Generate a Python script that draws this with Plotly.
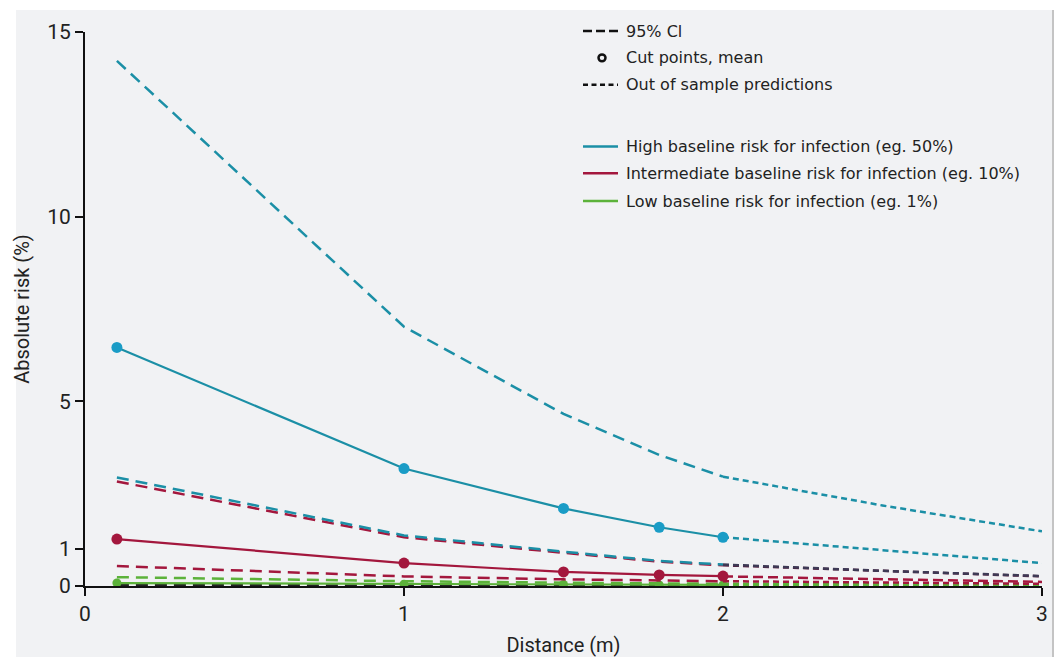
import plotly.graph_objects as go

# ---- data ----
x_cut = [0.1, 1.0, 1.5, 1.8, 2.0]
x_out = [2.0, 2.5, 3.0]

high_mean = [6.46, 3.18, 2.10, 1.59, 1.32]
high_upper = [14.22, 7.02, 4.66, 3.55, 2.96]
high_lower = [2.94, 1.37, 0.93, 0.68, 0.58]
high_mean_out = [1.32, 0.96, 0.62]
high_upper_out = [2.96, 2.18, 1.48]
high_lower_out = [0.58, 0.41, 0.27]

mid_mean = [1.27, 0.62, 0.38, 0.30, 0.27]
mid_upper = [2.83, 1.32, 0.90, 0.66, 0.56]
mid_lower = [0.54, 0.26, 0.18, 0.15, 0.13]
mid_mean_out = [0.26, 0.18, 0.11]
mid_upper_out = [0.56, 0.40, 0.26]
mid_lower_out = [0.13, 0.09, 0.06]

low_mean = [0.08, 0.05, 0.04, 0.03, 0.03]
low_upper = [0.24, 0.13, 0.09, 0.07, 0.06]
low_lower = [0.02, 0.01, 0.01, 0.01, 0.01]
low_mean_out = [0.03, 0.02, 0.02]
low_upper_out = [0.06, 0.05, 0.04]

x_ticks = [0, 1, 2, 3]
y_ticks = [0, 1, 5, 10, 15]

legend_style = ["95% Cl", "Cut points, mean", "Out of sample predictions"]
legend_groups = ["High baseline risk for infection (eg. 50%)",
                 "Intermediate baseline risk for infection (eg. 10%)",
                 "Low baseline risk for infection (eg. 1%)"]

BLUE = "#1b8fa6"
BLUE_M = "#1a9cc6"
RED = "#a3173d"
GREEN = "#5cb23a"
CI_DASH = "12px,7px"
OUT_DASH = "6px,4px"

fig = go.Figure()

def line(x, y, color, dash="solid", width=2.2):
    fig.add_trace(go.Scatter(x=x, y=y, mode="lines", showlegend=False,
                             line=dict(color=color, dash=dash, width=width),
                             hoverinfo="skip"))

def mean(x, y, color, mcolor, msize):
    fig.add_trace(go.Scatter(x=x, y=y, mode="lines+markers", showlegend=False,
                             line=dict(color=color, width=2.2),
                             marker=dict(color=mcolor, size=msize),
                             hoverinfo="skip"))

# low
line(x_cut, low_lower, "#222", CI_DASH, 2.5)
line(x_cut, low_upper, GREEN, CI_DASH, 2.5)
line(x_out, low_upper_out, GREEN, OUT_DASH, 2.5)
line(x_out, low_mean_out, GREEN, OUT_DASH, 2.5)
mean(x_cut, low_mean, GREEN, GREEN, 9)
# intermediate
line(x_cut, mid_lower, RED, CI_DASH, 2.5)
line(x_cut, mid_upper, RED, CI_DASH, 2.5)
line(x_out, mid_lower_out, RED, OUT_DASH, 2.5)
line(x_out, mid_mean_out, RED, "10px,5px", 2.5)
line(x_out, mid_upper_out, "#5a1d3f", OUT_DASH, 2.5)
mean(x_cut, mid_mean, RED, RED, 11)
# high
line(x_cut, high_lower, BLUE, CI_DASH, 2.5)
line(x_cut, high_upper, BLUE, CI_DASH, 2.5)
line(x_out, high_lower_out, "#3e3a55", OUT_DASH, 2.5)
line(x_out, high_upper_out, BLUE, OUT_DASH, 2.5)
line(x_out, high_mean_out, BLUE, OUT_DASH, 2.5)
mean(x_cut, high_mean, BLUE, BLUE_M, 11)

# ---- layout geometry (page pixels; body margin of 8px) ----
PL, PR, PT, PB = 85, 1042, 30, 587
W, H = PR - PL, PB - PT

def px(xp):
    return (xp - PL) / W

def py(yp):
    return (PB - yp) / H

# manual legend
LEG_FONT = dict(family="DejaVu Sans", size=16, color="#222")
rows_style = [29, 56, 83]
rows_group = [145, 172, 200]
annotations = []
shapes = [
    dict(type="rect", xref="paper", yref="paper", x0=px(16), x1=px(1053),
         y0=py(670), y1=py(8), fillcolor="#f1f2f4", line=dict(width=0), layer="below"),
    dict(type="line", xref="paper", yref="paper", x0=px(1053), x1=px(1053),
         y0=py(670), y1=py(8), line=dict(color="#c4c4c4", width=2), layer="below"),
]
for label, r in zip(legend_style + legend_groups, rows_style + rows_group):
    annotations.append(dict(text=label, xref="paper", yref="paper", x=px(624), y=py(r),
                            xanchor="left", yanchor="middle", showarrow=False, font=LEG_FONT))
shapes.append(dict(type="line", xref="paper", yref="paper", x0=px(583), x1=px(618),
                   y0=py(rows_style[0]), y1=py(rows_style[0]),
                   line=dict(color="#111", width=2.5, dash="9px,4px")))
shapes.append(dict(type="circle", xref="paper", yref="paper", x0=px(598.5), x1=px(605.5),
                   y0=py(rows_style[1] + 3.5), y1=py(rows_style[1] - 3.5),
                   fillcolor="#f1f2f4", line=dict(color="#111", width=2.5)))
shapes.append(dict(type="line", xref="paper", yref="paper", x0=px(583), x1=px(618),
                   y0=py(rows_style[2]), y1=py(rows_style[2]),
                   line=dict(color="#111", width=2.5, dash="5px,3.5px")))
for c, r in zip([BLUE, RED, GREEN], rows_group):
    shapes.append(dict(type="line", xref="paper", yref="paper", x0=px(583), x1=px(618),
                       y0=py(r), y1=py(r), line=dict(color=c, width=2.5)))

axis_common = dict(showline=True, linecolor="#111", linewidth=2, ticks="outside",
                   ticklen=8, tickwidth=2, tickcolor="#111", showgrid=False,
                   zeroline=False, tickfont=dict(family="Roboto", size=21, color="#222"))

fig.update_layout(
    width=1062, height=657,
    margin=dict(l=PL - 8, r=1070 - PR, t=PT - 8, b=665 - PB),
    paper_bgcolor="white",
    plot_bgcolor="rgba(0,0,0,0)",
    showlegend=False,
    font=dict(family="Roboto", color="#222"),
    xaxis=dict(range=[0, 3], tickvals=x_ticks, title=dict(text="Distance (m)",
               font=dict(size=20, family="Roboto"), standoff=13), **axis_common),
    yaxis=dict(range=[0, 15], tickvals=y_ticks, title=dict(text="Absolute risk (%)",
               font=dict(size=20, family="Roboto"), standoff=12), **axis_common),
    shapes=shapes,
    annotations=annotations,
)

fig.write_html("out.html")
